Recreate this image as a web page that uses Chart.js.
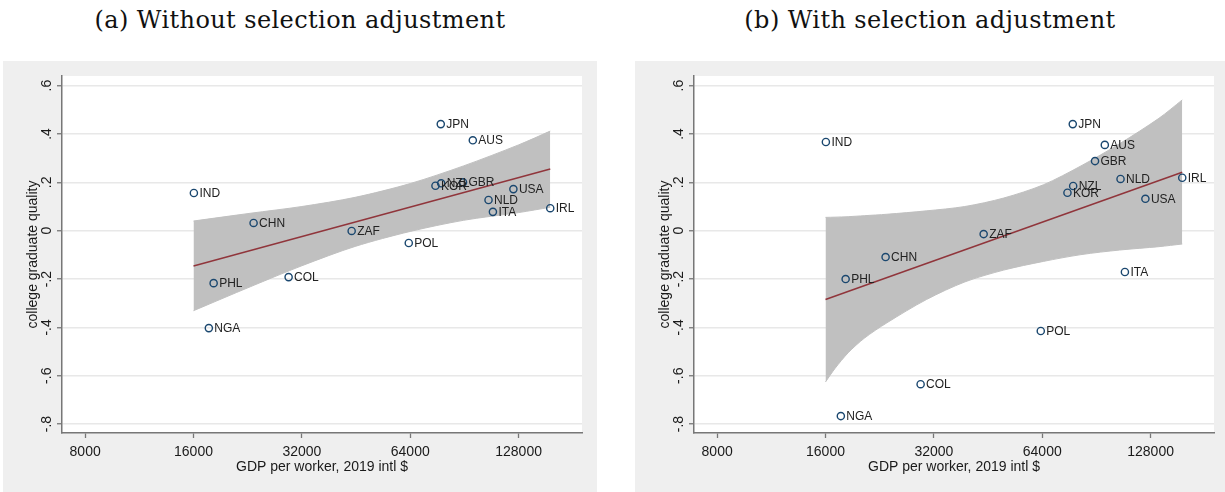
<!DOCTYPE html>
<html>
<head>
<meta charset="utf-8">
<script src="https://cdn.jsdelivr.net/npm/chart.js@4.4.1/dist/chart.umd.min.js"></script>
<style>
  body { margin:0; width:1225px; height:492px; background:#fff; position:relative; overflow:hidden; }
  .title { position:absolute; top:6px; font-family:"DejaVu Serif", serif; font-size:24px; letter-spacing:0.4px; color:#111; text-align:center; white-space:nowrap; }
  .box { position:absolute; top:61px; height:431px; background:#efefef; }
</style>
</head>
<body>
<div class="title" style="left:3px;width:594px">(a) Without selection adjustment</div>
<div class="box" style="left:3px;width:594px"><canvas id="chartA"></canvas></div>
<div class="title" style="left:635px;width:590px">(b) With selection adjustment</div>
<div class="box" style="left:635px;width:590px"><canvas id="chartB"></canvas></div>

<script>
// Data
const countries = ['IND','CHN','PHL','NGA','COL','ZAF','POL','JPN','AUS','KOR','NZL','GBR','USA','NLD','ITA','IRL'];
const gdpPerWorker = [16040, 23500, 18200, 17650, 29400, 44000, 63400, 77800, 95500, 75200, 78000, 89700, 123800, 105600, 108600, 156700];
const qualityNoAdj = [0.156, 0.032, -0.217, -0.403, -0.192, -0.001, -0.051, 0.441, 0.374, 0.186, 0.196, 0.200, 0.172, 0.127, 0.078, 0.093];
const qualityAdj = [0.367, -0.109, -0.200, -0.767, -0.635, -0.014, -0.415, 0.441, 0.355, 0.157, 0.185, 0.288, 0.132, 0.214, -0.171, 0.219];

// fitted line and confidence band
const fitX = [16000, 156700];
const fitNoAdj = [-0.146, 0.255];
const fitAdj = [-0.285, 0.242];

const bandXNoAdj = [16000, 23000, 32000, 45000, 64000, 90000, 128000, 156700];
const bandHiNoAdj = [0.040, 0.072, 0.100, 0.138, 0.195, 0.268, 0.355, 0.412];
const bandLoNoAdj = [-0.331, -0.232, -0.145, -0.065, -0.003, 0.043, 0.075, 0.097];

const bandXAdj = [16000, 17000, 18500, 20500, 23700, 30500, 39000, 50000, 64500, 82000, 105000, 135000, 156700];
const bandHiAdj = [0.055, 0.056, 0.058, 0.062, 0.068, 0.082, 0.100, 0.135, 0.190, 0.268, 0.360, 0.465, 0.541];
const bandLoAdj = [-0.626, -0.570, -0.505, -0.445, -0.381, -0.285, -0.212, -0.163, -0.127, -0.099, -0.080, -0.066, -0.055];

// Axes
const xTicks = [8000, 16000, 32000, 64000, 128000];
const xTickLabels = ['8000', '16000', '32000', '64000', '128000'];
const yTicks = [-0.8, -0.6, -0.4, -0.2, 0, 0.2, 0.4, 0.6];
const yTickLabels = ['-.8', '-.6', '-.4', '-.2', '0', '.2', '.4', '.6'];

const FONT = '"Liberation Sans", Arial, sans-serif';
const TEXT = '#1a1a1a';
const AXIS = '#777';

const plotBg = {
    id: 'plotBg',
    beforeDraw(chart){
        const {ctx, chartArea: a} = chart;
        ctx.save();
        ctx.fillStyle = '#fff';
        ctx.fillRect(a.left, a.top, a.right - a.left, a.bottom - a.top);
        ctx.restore();
    }
};

const pointLabels = {
    id: 'pointLabels',
    afterDatasetsDraw(chart){
        const ctx = chart.ctx;
        const meta = chart.getDatasetMeta(0);
        ctx.save();
        ctx.font = '12px ' + FONT;
        ctx.fillStyle = '#222';
        ctx.textBaseline = 'middle';
        meta.data.forEach((el, i)=>{
            ctx.fillText(countries[i], el.x + 5.5, el.y + 0.5);
        });
        ctx.restore();
    }
};

function toPoints(xs, ys){
    return xs.map((x, i)=>({x: x, y: ys[i]}));
}

function makeChart(id, quality, fitY, bandX, bandHi, bandLo, rightPad){
    const ctx = document.getElementById(id).getContext('2d');
    return new Chart(ctx, {
        type: 'scatter',
        data: {
            datasets: [
                {
                    data: toPoints(gdpPerWorker, quality),
                    pointRadius: 3.6,
                    pointBorderWidth: 1.4,
                    borderColor: '#1a476f',
                    backgroundColor: 'rgba(0,0,0,0)',
                    order: 0
                },
                {
                    data: toPoints(fitX, fitY),
                    showLine: true,
                    borderColor: '#90353b',
                    borderWidth: 1.5,
                    pointRadius: 0,
                    order: 1
                },
                {
                    data: toPoints(bandX, bandHi),
                    showLine: true,
                    borderColor: '#c0c0c0',
                    borderWidth: 1,
                    backgroundColor: '#c0c0c0',
                    pointRadius: 0,
                    fill: '+1',
                    tension: 0.3,
                    order: 2
                },
                {
                    data: toPoints(bandX, bandLo),
                    showLine: true,
                    borderColor: '#c0c0c0',
                    borderWidth: 1,
                    pointRadius: 0,
                    fill: false,
                    tension: 0.3,
                    order: 3
                }
            ]
        },
        options: {
            responsive: true,
            maintainAspectRatio: false,
            animation: false,
            events: [],
            layout: {padding: {top: 15, right: rightPad, left: 0, bottom: 0}},
            plugins: {legend: {display: false}, tooltip: {enabled: false}},
            scales: {
                x: {
                    type: 'logarithmic',
                    min: 6900,
                    max: 192000,
                    afterBuildTicks: s=>{ s.ticks = xTicks.map(v=>({value: v})); },
                    afterFit: s=>{ s.height = 59; },
                    grid: {drawOnChartArea: false, drawTicks: true, tickLength: 5, tickColor: AXIS, tickWidth: 1.3},
                    border: {display: true, color: AXIS, width: 1.5},
                    ticks: {
                        callback: (v, i)=> xTickLabels[i],
                        autoSkip: false, maxRotation: 0, padding: 6,
                        color: TEXT, font: {family: FONT, size: 14}
                    },
                    title: {
                        display: true, text: 'GDP per worker, 2019 intl $',
                        color: TEXT, font: {family: FONT, size: 14},
                        padding: {top: 0, bottom: 16.6}
                    }
                },
                y: {
                    min: -0.837,
                    max: 0.64,
                    afterBuildTicks: s=>{ s.ticks = yTicks.map(v=>({value: v})); },
                    afterFit: s=>{ s.width = 59; },
                    grid: {color: '#e8e8e8', lineWidth: 1.5, drawTicks: true, tickLength: 5, tickColor: AXIS, tickWidth: 1.3},
                    border: {display: true, color: AXIS, width: 1.5},
                    ticks: {
                        callback: (v, i)=> yTickLabels[i],
                        minRotation: 90, maxRotation: 90,
                        crossAlign: 'center', padding: 2,
                        color: TEXT, font: {family: FONT, size: 14}
                    },
                    title: {
                        display: true, text: 'college graduate quality',
                        color: TEXT, font: {family: FONT, size: 14},
                        padding: {top: 22, bottom: 0}
                    }
                }
            }
        },
        plugins: [plotBg, pointLabels]
    });
}

makeChart('chartA', qualityNoAdj, fitNoAdj, bandXNoAdj, bandHiNoAdj, bandLoNoAdj, 15);
makeChart('chartB', qualityAdj, fitAdj, bandXAdj, bandHiAdj, bandLoAdj, 11);
</script>
</body>
</html>
